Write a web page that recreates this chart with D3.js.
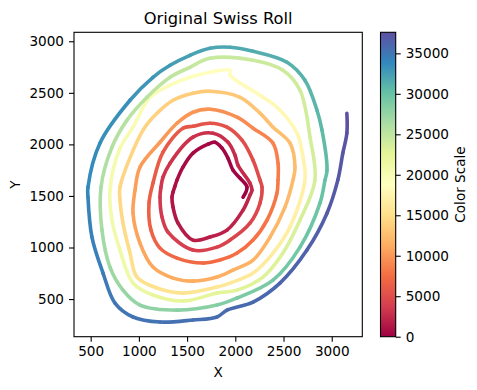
<!DOCTYPE html>
<html>
<head>
<meta charset="utf-8">
<script src="https://cdn.jsdelivr.net/npm/d3@7"></script>
<style>
  html, body { margin: 0; padding: 0; background: #fff; }
  svg { display: block; }
  text { font-family: "DejaVu Sans", sans-serif; fill: #000; }
</style>
</head>
<body>
<svg id="chart" width="477" height="390"></svg>
<script>
const rollX = [2080,2121,2049,1976,1924,1862,1789,1717,1561,1457,1395,1374,1354,1343,1354,1406,1561,
  1737,1914,2080,2152,2173,2152,2028,1997,1924,1769,1561,1323,1250,1229,1219,1240,1302,1561,
  1810,1945,2152,2256,2277,2256,2184,2069,1914,1737,
  1561,1457,1250,1146,1105,1125,1219,1395,1665,
  1841,2018,2184,2329,2432,2443,2443,2391,2184,2018,1737,
  1561,1395,1219,1011,960,939,1011,1146,1354,1561,
  1810,1976,2184,2360,2515,2598,2619,2567,2391,2256,2049,1737,
  1561,1354,1188,1043,804,804,835,908,980,1188,1457,
  1810,1945,2184,2391,2567,2722,2702,2640,2432,2256,1945,1945,1737,
  1530,1323,1115,939,804,700,721,804,939,1146,1457,
  1810,2018,2287,2494,2671,2826,2775,2671,2494,2184,1737,
  1530,1323,1084,877,721,607,617,700,835,1011,1395,
  1810,2018,2391,2671,2878,2930,2951,2899,2847,2722,2536,2184,1945,1737,
  1530,1323,1146,908,596,472,472,513,628,752,939,1219,
  1561,1810,1914,2184,2463,2743,2951,3063,3115,3157,3157];
const rollY = [1488,1585,1672,1750,1866,1963,2021,2002,1915,1779,1653,1595,1537,1488,1391,1236,1072,
  1101,1169,1362,1508,1556,1624,1798,1895,2021,2109,2070,1818,1682,1585,1488,1295,1149,975,
  1004,1072,1236,1430,1585,1653,1847,2041,2167,2205,
  2176,2157,1924,1624,1430,1169,994,897,849,
  878,946,1072,1266,1527,1653,1818,2012,2157,2264,2341,
  2312,2205,2021,1779,1556,1333,1043,810,703,674,
  713,781,878,1101,1391,1653,1779,2012,2167,2303,2457,2516,
  2496,2428,2302,2138,1585,1459,1236,946,713,607,558,
  616,655,752,946,1198,1653,1876,2109,2360,2477,2671,2719,2700,
  2651,2574,2457,2167,1963,1556,1266,975,655,539,481,
  558,587,713,946,1266,1653,2070,2525,2719,2816,2835,
  2748,2651,2457,2235,1973,1585,1169,810,587,442,393,
  442,510,684,1004,1430,1653,1750,2138,2331,2622,2797,2903,2942,2932,
  2864,2767,2651,2428,2012,1585,1488,1101,752,461,326,277,
  297,326,393,471,655,975,1333,1653,1915,2109,2302];
const rollT = [0,30,70,130,190,250,320,400,500,680,820,950,1020,1130,1290,1480,1700,1850,2000,2150,2290,2400,2500,2590,2680,2800,2900,3020,3150,3280,3350,3430,3560,3720,3900,4050,4200,4400,4580,4700,4760,4920,5100,5300,5500,5620,5790,6000,6250,6450,6650,6800,7000,7200,7400,7550,7730,7950,8200,8350,8500,8700,8980,9350,9700,9800,9950,10150,10300,10450,10600,10800,10980,11100,11200,11380,11500,11600,11800,12050,12250,12350,12500,12650,12800,13100,13400,13500,13650,13850,14100,14300,14400,14550,14800,15100,15300,15500,15800,16000,16250,16550,16850,17200,17450,17750,18050,18200,18500,18600,18800,19000,19300,19700,20000,20350,20500,20700,21000,21450,21800,22500,22700,22850,23000,23200,23400,23600,23800,24000,24150,24300,24500,24700,25000,25300,25600,25900,26200,26600,27000,27300,27600,28000,28400,28700,29100,29500,29900,30100,30300,30600,30800,31000,31200,31500,31800,32000,32200,32500,32800,33200,33600,33700,34000,34300,34600,34900,35100,35300,35450,35600,35700,35900,36100,36400,36700,37000,37200,37400,37600];

const xTicks = [500, 1000, 1500, 2000, 2500, 3000];
const yTicks = [500, 1000, 1500, 2000, 2500, 3000];
const colorTicks = [0, 5000, 10000, 15000, 20000, 25000, 30000, 35000];
const spectral = ["#9e0142","#d53e4f","#f46d43","#fdae61","#fee08b","#ffffbf","#e6f598","#abdda4","#66c2a5","#3288bd","#5e4fa2"];

const tMax = 37600;

const svg = d3.select("#chart");
const plot = { left: 74, right: 362.3, top: 32.3, bottom: 336.7 };
const bar = { left: 380.5, right: 395.7 };

const x = d3.scaleLinear().domain([327, 3317]).range([plot.left, plot.right]);
const y = d3.scaleLinear().domain([135, 3087]).range([plot.bottom, plot.top]);
const c = d3.scaleLinear().domain([0, tMax]).range([plot.bottom, plot.top]);
const color = d3.scaleLinear()
  .domain(spectral.map((d, i) => (i / (spectral.length - 1)) * tMax))
  .range(spectral);

// catmull-rom gives one bezier per pair of points, so catch them and colour each one
const pieces = [];
let last = null;
const catcher = {
  moveTo(a, b) { last = [a, b]; },
  lineTo(a, b) { pieces.push(`M${last}L${a},${b}`); last = [a, b]; },
  bezierCurveTo(a, b, c2, d, e, f) {
    pieces.push(`M${last}C${a},${b},${c2},${d},${e},${f}`);
    last = [e, f];
  },
  closePath() {}
};
d3.line().x(d => x(rollX[d])).y(d => y(rollY[d]))
  .curve(d3.curveCatmullRom).context(catcher)(d3.range(rollX.length));

svg.append("g")
  .attr("fill", "none")
  .attr("stroke-width", 3.6)
  .attr("stroke-linecap", "round")
  .selectAll("path")
  .data(pieces)
  .join("path")
  .attr("d", d => d)
  .attr("stroke", (d, i) => color((rollT[i] + rollT[i + 1]) / 2));

const styleAxis = g => {
  g.selectAll("text").attr("font-size", 13.6).attr("fill", "#000");
  g.selectAll("line").attr("stroke", "#000").attr("stroke-width", 1.1);
  g.select(".domain").remove();
};

svg.append("g")
  .attr("transform", `translate(0,${plot.bottom})`)
  .call(d3.axisBottom(x).tickValues(xTicks).tickFormat(d3.format("d")).tickSize(5).tickPadding(5))
  .call(styleAxis);

svg.append("g")
  .attr("transform", `translate(${plot.left},0)`)
  .call(d3.axisLeft(y).tickValues(yTicks).tickFormat(d3.format("d")).tickSize(5).tickPadding(5))
  .call(styleAxis);

svg.append("rect")
  .attr("x", plot.left).attr("y", plot.top)
  .attr("width", plot.right - plot.left).attr("height", plot.bottom - plot.top)
  .attr("fill", "none").attr("stroke", "#000").attr("stroke-width", 1.1);

// colorbar
const grad = svg.append("defs").append("linearGradient")
  .attr("id", "spectral").attr("x1", 0).attr("x2", 0).attr("y1", 1).attr("y2", 0);
grad.selectAll("stop")
  .data(spectral)
  .join("stop")
  .attr("offset", (d, i) => i / (spectral.length - 1))
  .attr("stop-color", d => d);

svg.append("rect")
  .attr("x", bar.left).attr("y", plot.top)
  .attr("width", bar.right - bar.left).attr("height", plot.bottom - plot.top)
  .attr("fill", "url(#spectral)").attr("stroke", "#000").attr("stroke-width", 1.1);

svg.append("g")
  .attr("transform", `translate(${bar.right},0)`)
  .call(d3.axisRight(c).tickValues(colorTicks).tickFormat(d3.format("d")).tickSize(5).tickPadding(5))
  .call(styleAxis);

svg.append("text")
  .attr("x", (plot.left + plot.right) / 2).attr("y", 24)
  .attr("text-anchor", "middle").attr("font-size", 16.3)
  .text("Original Swiss Roll");

svg.append("text")
  .attr("x", (plot.left + plot.right) / 2).attr("y", 376.7)
  .attr("text-anchor", "middle").attr("font-size", 13.6)
  .text("X");

svg.append("text")
  .attr("transform", `translate(20,${(plot.top + plot.bottom) / 2}) rotate(-90)`)
  .attr("text-anchor", "middle").attr("font-size", 13.6)
  .text("Y");

svg.append("text")
  .attr("transform", `translate(465,${(plot.top + plot.bottom) / 2}) rotate(-90)`)
  .attr("text-anchor", "middle").attr("font-size", 13.6)
  .text("Color Scale");
</script>
</body>
</html>
